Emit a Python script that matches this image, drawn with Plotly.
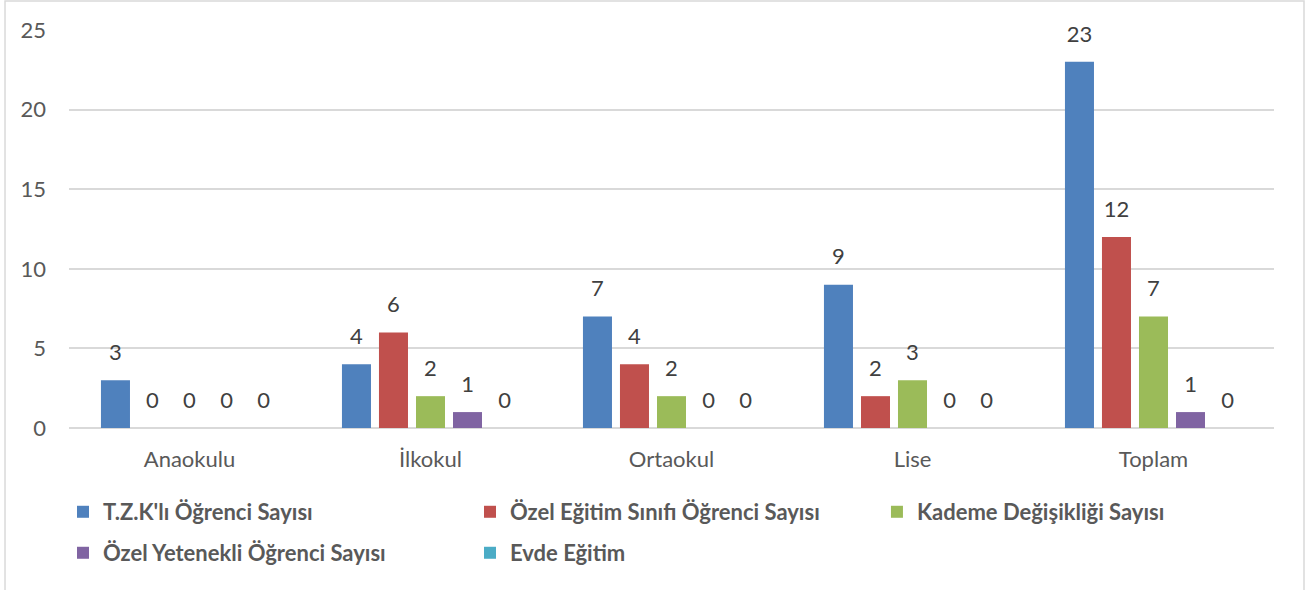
import plotly.graph_objects as go

categories = ["Anaokulu", "İlkokul", "Ortaokul", "Lise", "Toplam"]

series_names = [
    "T.Z.K'lı Öğrenci Sayısı",
    "Özel Eğitim Sınıfı Öğrenci Sayısı",
    "Kademe Değişikliği Sayısı",
    "Özel Yetenekli Öğrenci Sayısı",
    "Evde Eğitim",
]

tzk_values = [3, 4, 7, 9, 23]
ozel_egitim_values = [0, 6, 4, 2, 12]
kademe_values = [0, 2, 2, 3, 7]
ozel_yetenekli_values = [0, 1, 0, 0, 1]
evde_egitim_values = [0, 0, 0, 0, 0]

y_ticks = [0, 5, 10, 15, 20, 25]

series_values = [
    tzk_values,
    ozel_egitim_values,
    kademe_values,
    ozel_yetenekli_values,
    evde_egitim_values,
]
colors = ["#4F81BD", "#C0504D", "#9BBB59", "#8064A2", "#4BACC6"]

FONT = "Lato, 'Open Sans', sans-serif"
BAR_GAP = 0.232

# one legend per series, so the columns sit where Excel put them
legend_slots = [
    ("legend", -0.005, -0.211),
    ("legend2", 0.3328, -0.211),
    ("legend3", 0.6705, -0.211),
    ("legend4", -0.005, -0.314),
    ("legend5", 0.3328, -0.314),
]

fig = go.Figure()
for name, values, color, slot in zip(series_names, series_values, colors, legend_slots):
    fig.add_trace(
        go.Bar(
            name=name,
            x=categories,
            y=values,
            marker=dict(color=color, line=dict(width=0)),
            legend=slot[0],
            hoverinfo="skip",
        )
    )

# data labels: invisible-marker scatter traces grouped like the bars,
# the marker size pushes the label up off the bar top as in Excel
for values in series_values:
    fig.add_trace(
        go.Scatter(
            x=categories,
            y=values,
            mode="markers+text",
            text=[str(v) for v in values],
            textposition="top center",
            textfont=dict(family=FONT, size=22, color="#404040"),
            marker=dict(size=22, color="rgba(0,0,0,0)"),
            showlegend=False,
            hoverinfo="skip",
            cliponaxis=False,
        )
    )

layout_legends = {}
for key, lx, ly in legend_slots:
    layout_legends[key] = dict(
        x=lx,
        y=ly,
        xanchor="left",
        yanchor="middle",
        orientation="v",
        bgcolor="rgba(0,0,0,0)",
        font=dict(family=FONT, size=22, color="#595959", weight="bold"),
        itemwidth=30,
    )

fig.update_layout(
    width=1312,
    height=590,
    template="plotly_white",
    paper_bgcolor="white",
    plot_bgcolor="white",
    barmode="group",
    bargap=BAR_GAP,
    bargroupgap=0.216,
    scattermode="group",
    scattergap=BAR_GAP,
    margin=dict(l=69, r=38, t=30, b=162),
    showlegend=True,
    hovermode=False,
    font=dict(family=FONT, color="#595959"),
    **layout_legends,
)

fig.update_yaxes(
    range=[0, 25],
    tickvals=y_ticks,
    showgrid=True,
    gridcolor="#D9D9D9",
    gridwidth=1.5,
    zeroline=True,
    zerolinecolor="#D9D9D9",
    zerolinewidth=1.5,
    showline=False,
    tickfont=dict(family=FONT, size=22, color="#595959"),
    ticklabelstandoff=22,
)
fig.update_xaxes(
    showgrid=False,
    showline=False,
    tickfont=dict(family=FONT, size=22, color="#595959"),
    ticklabelstandoff=16,
)

# outer chart-area border
fig.add_shape(
    type="rect",
    xref="paper",
    yref="paper",
    x0=-0.0531,
    x1=1.0249,
    y0=-0.45,
    y1=1.0729,
    line=dict(color="#D9D9D9", width=1.5),
    fillcolor="rgba(0,0,0,0)",
    layer="below",
)

fig.write_html(
    "out.html",
    config={"displayModeBar": False},
    post_script="document.body.style.margin = '0';",
)
